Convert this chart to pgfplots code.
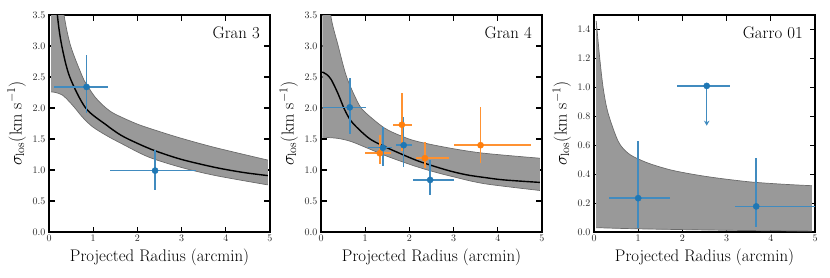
\documentclass[border=0pt]{standalone}
\usepackage{pgfplots}
\usepackage{pgfplotstable}
\pgfplotsset{compat=1.18}
\usepgfplotslibrary{fillbetween}
\usetikzlibrary{arrows.meta}
\definecolor{tabblue}{HTML}{1F77B4}
\definecolor{taborange}{HTML}{FF7F0E}
\tikzset{paneltitle/.style={anchor=north east, inner sep=0pt, font=\fontsize{16.8}{20}\selectfont}}
% ---- Gran 3 model band and fit
\pgfplotstableread{
x y
0.05 6.0
0.20 4.25
0.34 3.5
0.49 3.0
0.76 2.5
0.87 2.36
1.05 2.17
1.29 2.0
1.5 1.9
2.0 1.74
2.5 1.62
3.0 1.51
3.77 1.36
4.95 1.16
}\upA
\pgfplotstableread{
x y
0.05 2.26
0.15 2.25
0.30 2.21
0.45 2.11
0.61 1.98
0.76 1.85
0.98 1.70
1.29 1.56
1.63 1.43
2.25 1.21
3.0 1.04
3.77 0.91
4.95 0.76
}\loA
\pgfplotstableread{
x y
0.12 4.3
0.19 3.5
0.29 3.0
0.47 2.5
0.83 2.0
1.29 1.73
1.63 1.56
2.0 1.43
2.4 1.31
3.0 1.17
3.77 1.04
4.4 0.96
4.95 0.91
}\fitA
% ---- Gran 4
\pgfplotstableread{
x y
0.03 6.0
0.13 4.3
0.22 3.5
0.39 3.0
0.58 2.5
0.84 2.08
1.0 1.93
1.43 1.68
1.81 1.55
2.18 1.46
2.94 1.35
3.69 1.27
4.95 1.19
}\upB
\pgfplotstableread{
x y
0.03 1.53
0.38 1.51
0.68 1.46
1.06 1.35
1.43 1.24
1.81 1.14
2.18 1.05
2.56 0.97
2.94 0.90
3.69 0.78
4.95 0.67
}\loB
\pgfplotstableread{
x y
0.03 2.58
0.13 2.54
0.23 2.46
0.38 2.24
0.53 1.98
0.68 1.79
0.91 1.62
1.13 1.49
1.43 1.38
1.81 1.26
2.18 1.15
2.56 1.06
2.94 0.98
3.31 0.92
3.69 0.88
4.14 0.84
4.95 0.80
}\fitB
% ---- Garro 01
\pgfplotstableread{
x y
0.05 1.46
0.13 1.20
0.21 0.99
0.32 0.82
0.55 0.625
0.77 0.545
1.0 0.505
1.30 0.468
1.75 0.428
2.27 0.397
2.79 0.373
3.54 0.346
4.29 0.330
4.93 0.320
}\upC
\pgfplotstableread{
x y
0.05 0.030
1.0 0.022
3.0 0.012
4.93 0.006
}\loC
\pgfplotsset{
  panel/.style={
    scale only axis, width=221pt, height=217pt, anchor=south west,
    xmin=0, xmax=5, ymin=0,
    xtick={0,1,2,3,4,5},
    tick align=inside, xtick pos=both, ytick pos=both,
    major tick length=5.5pt,
    every tick/.style={black, line width=1.1pt},
    axis line style={line width=1.5pt},
    tick label style={font=\fontsize{10}{12}\selectfont, black!85},
    label style={font=\fontsize{16.8}{20}\selectfont},
    yticklabel style={/pgf/number format/.cd, fixed, fixed zerofill, precision=1},
    xlabel={Projected Radius (arcmin)},
    ylabel={$\sigma_{\mathrm{los}}(\mathrm{km\ s^{-1}})$},
    clip=true,
  },
  bandfill/.style={fill=black!40, draw=none},
  bandedge/.style={draw=black!58, line width=0.7pt, no marks, smooth},
  bandpath/.style={draw=none, no marks, smooth},
  fit/.style={black, line width=1.4pt, no marks, smooth},
  pts/.style={only marks, mark=*, mark size=3.1pt, color=#1,
    error bars/.cd, x dir=both, x explicit, y dir=both, y explicit,
    error bar style={line width=1.6pt, color=#1!85!white}, error mark=none},
}
\begin{document}
\begin{tikzpicture}
\path (0,0) rectangle (830pt,277pt);
% ---------------- Gran 3
\begin{axis}[panel, at={(49pt,45pt)}, ymax=3.5, ytick={0,0.5,...,3.5}]
\addplot[bandpath, name path=uA] table {\upA};
\addplot[bandpath, name path=lA] table {\loA};
\addplot[bandfill] fill between[of=uA and lA];
\addplot[bandedge] table {\upA};
\addplot[bandedge] table {\loA};
\addplot[fit] table {\fitA};
\addplot[pts=tabblue] coordinates {
 (0.85,2.34) += (0.48,0.51) -= (0.74,0.42)
 (2.40,0.99) += (0.93,0.34) -= (1.02,0.31)};
\node[paneltitle] at (rel axis cs:1,1) [xshift=-10pt, yshift=-11.5pt] {Gran 3};
\end{axis}
% ---------------- Gran 4
\begin{axis}[panel, at={(321pt,45pt)}, ymax=3.5, ytick={0,0.5,...,3.5}]
\addplot[bandpath, name path=uB] table {\upB};
\addplot[bandpath, name path=lB] table {\loB};
\addplot[bandfill] fill between[of=uB and lB];
\addplot[bandedge] table {\upB};
\addplot[bandedge] table {\loB};
\addplot[fit] table {\fitB};
\addplot[pts=taborange] coordinates {
 (1.33,1.27) += (0.25,0.29) -= (0.33,0.17)
 (1.83,1.73) += (0.23,0.52) -= (0.19,0.43)
 (2.35,1.19) += (0.55,0.26) -= (0.20,0.15)
 (3.61,1.40) += (1.13,0.61) -= (0.60,0.29)};
\addplot[pts=tabblue] coordinates {
 (0.65,2.01) += (0.37,0.48) -= (0.61,0.43)
 (1.40,1.36) += (0.20,0.34) -= (0.34,0.29)
 (1.87,1.40) += (0.20,0.45) -= (0.17,0.35)
 (2.47,0.84) += (0.54,0.32) -= (0.38,0.24)};
\node[paneltitle] at (rel axis cs:1,1) [xshift=-10pt, yshift=-11.5pt] {Gran 4};
\end{axis}
% ---------------- Garro 01
\begin{axis}[panel, at={(594pt,45pt)}, ymax=1.5, ytick={0,0.2,...,1.4}]
\addplot[bandpath, name path=uC] table {\upC};
\addplot[bandpath, name path=lC] table {\loC};
\addplot[bandfill] fill between[of=uC and lC];
\addplot[bandedge] table {\upC};
\addplot[bandedge] table {\loC};
\addplot[pts=tabblue] coordinates {
 (1.00,0.234) += (0.71,0.396) -= (0.66,0.204)
 (3.67,0.177) += (1.38,0.333) -= (0.48,0.142)};
\addplot[only marks, mark=*, mark size=3.1pt, color=tabblue,
  error bars/.cd, x dir=both, x explicit,
  error bar style={line width=1.6pt, color=tabblue!85!white}, error mark=none]
  coordinates {(2.55,1.01) += (0.52,0) -= (0.68,0)};
\addplot[tabblue!85!white, line width=1.5pt, -{Stealth[length=5pt,width=5.5pt]}] coordinates {(2.55,1.01) (2.55,0.735)};
\node[paneltitle] at (rel axis cs:1,1) [xshift=-12pt, yshift=-11.5pt] {Garro 01};
\end{axis}
\end{tikzpicture}
\end{document}
